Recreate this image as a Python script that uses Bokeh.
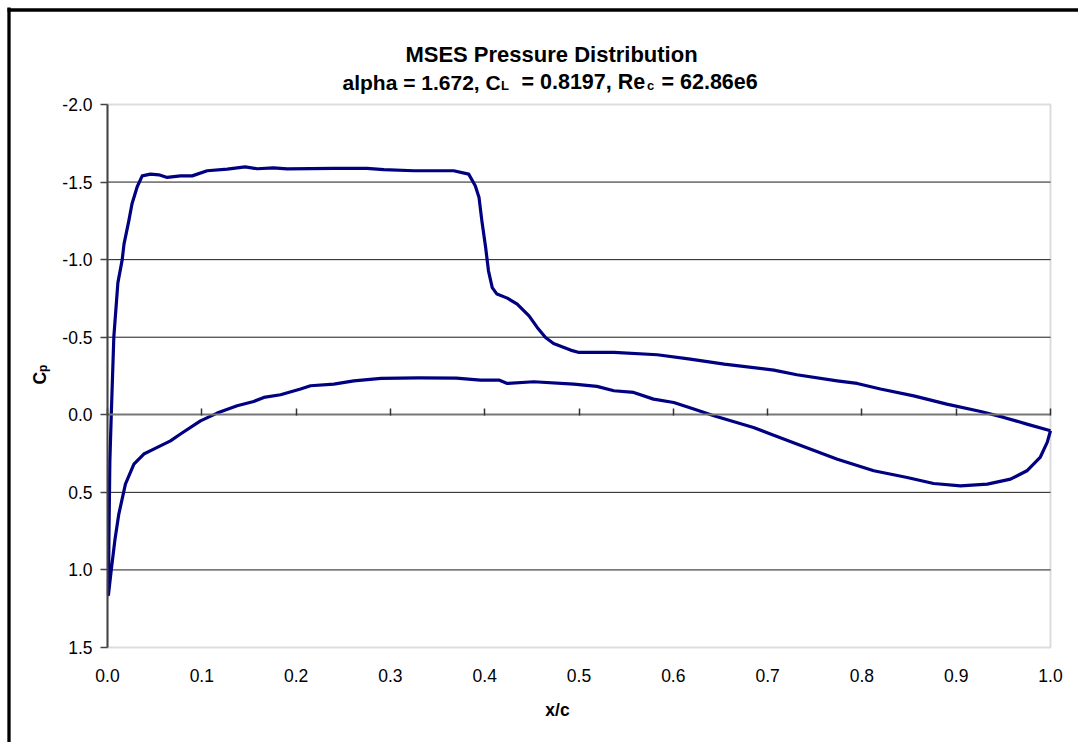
import math
from bokeh.plotting import figure
from bokeh.models import (Range1d, FixedTicker, NumeralTickFormatter, Label,
                          LinearAxis, BoxAnnotation)
from bokeh.embed import file_html
from bokeh.resources import INLINE

# ---------------- data ----------------
# upper (suction) surface, leading edge -> trailing edge
x_upper = [0.0010, 0.0015, 0.0025, 0.0040, 0.0067, 0.0110, 0.0156, 0.0175, 0.0226, 0.0260,
           0.0315, 0.0368, 0.0456, 0.0544, 0.0633, 0.0774, 0.0898, 0.1057, 0.127, 0.146,
           0.1587, 0.176, 0.1905, 0.24, 0.275, 0.293, 0.325, 0.367, 0.383, 0.390,
           0.394, 0.397, 0.401, 0.404, 0.408, 0.413, 0.424, 0.4345, 0.447, 0.4557,
           0.4645, 0.473, 0.491, 0.50, 0.537, 0.583, 0.618, 0.654, 0.7066, 0.731,
           0.7737, 0.795, 0.8197, 0.855, 0.890, 0.926, 0.9505, 0.975, 1.0]
cp_upper = [1.16, 0.80, 0.30, 0.00, -0.50, -0.85, -1.00, -1.10, -1.25, -1.36,
            -1.47, -1.54, -1.551, -1.547, -1.530, -1.54, -1.54, -1.573, -1.584, -1.598,
            -1.586, -1.592, -1.585, -1.588, -1.588, -1.580, -1.573, -1.573, -1.551, -1.476,
            -1.40, -1.25, -1.078, -0.928, -0.82, -0.778, -0.752, -0.713, -0.638, -0.563,
            -0.498, -0.46, -0.417, -0.402, -0.402, -0.387, -0.359, -0.327, -0.288, -0.258,
            -0.219, -0.202, -0.166, -0.122, -0.069, -0.021, 0.017, 0.06, 0.103]

# lower (pressure) surface, leading edge -> trailing edge
x_lower = [0.0010, 0.0040, 0.0080, 0.0120, 0.0190, 0.0280, 0.0385, 0.0490, 0.0668, 0.0774,
           0.0986, 0.1163, 0.1375, 0.155, 0.1658, 0.1835, 0.2047, 0.2153, 0.24, 0.2612,
           0.29, 0.33, 0.37, 0.3955, 0.415, 0.424, 0.452, 0.4945, 0.519, 0.537,
           0.558, 0.579, 0.6005, 0.6217, 0.643, 0.685, 0.703, 0.731, 0.774, 0.8126,
           0.848, 0.876, 0.9046, 0.933, 0.9576, 0.975, 0.989, 0.9965, 1.0]
cp_lower = [1.16, 1.00, 0.80, 0.64, 0.447, 0.318, 0.253, 0.221, 0.168, 0.124,
            0.039, -0.011, -0.058, -0.086, -0.112, -0.129, -0.166, -0.187, -0.198, -0.219,
            -0.235, -0.238, -0.236, -0.224, -0.224, -0.202, -0.213, -0.198, -0.183, -0.155,
            -0.144, -0.101, -0.079, -0.037, 0.006, 0.082, 0.124, 0.189, 0.286, 0.361,
            0.404, 0.443, 0.458, 0.447, 0.415, 0.361, 0.275, 0.178, 0.103]

x_ticks = [0.0, 0.1, 0.2, 0.3, 0.4, 0.5, 0.6, 0.7, 0.8, 0.9, 1.0]
y_ticks = [-2.0, -1.5, -1.0, -0.5, 0.0, 0.5, 1.0, 1.5]
grid_ticks = [-1.5, -1.0, -0.5, 0.5, 1.0]

title_line1 = "MSES Pressure Distribution"
title_parts = ["alpha = 1.672, C", "L", "= 0.8197, Re", "c", "= 62.86e6"]
x_title = "x/c"
y_title = ["C", "p"]

# ---------------- layout geometry (canvas pixels) ----------------
X0, X1 = 0.0, 1.0            # plot-area x extent
Y_BOTTOM, Y_TOP = 1.5, -2.0  # plot-area y extent (inverted axis)
FRAME_LEFT, FRAME_TOP, FRAME_W, FRAME_H = 107, 104, 943, 543
W, H = 1078, 742

def px_x(px):
    return X0 + (px - FRAME_LEFT) / FRAME_W * (X1 - X0)

def px_y(py):
    return Y_TOP + (py - FRAME_TOP) / FRAME_H * (Y_BOTTOM - Y_TOP)

FONT = "Liberation Sans"
TICK_SIZE = "17.5px"

p = figure(width=W, height=H, output_backend="svg", toolbar_location=None,
           x_range=Range1d(px_x(0), px_x(W)), y_range=Range1d(px_y(H), px_y(0)),
           x_axis_location=None, y_axis_location=None, min_border=0)
if p.title is not None:
    p.title.visible = False
p.background_fill_color = "white"
p.border_fill_color = "white"
p.outline_line_color = None
p.xgrid.visible = False
p.ygrid.visible = False

# outer chart border (left and top edges visible)
p.segment(x0=[px_x(8.5), px_x(7)], y0=[px_y(7), px_y(9.5)],
          x1=[px_x(8.5), px_x(W + 5)], y1=[px_y(H + 5), px_y(9.5)],
          line_color="black", line_width=3.3)

# plot area border
p.add_layout(BoxAnnotation(left=X0, right=X1, top=Y_TOP, bottom=Y_BOTTOM,
                           fill_alpha=0, line_color="#8c8c8c", line_width=2,
                           level="underlay"))

# horizontal gridlines
p.segment(x0=[X0] * len(grid_ticks), y0=grid_ticks, x1=[X1] * len(grid_ticks), y1=grid_ticks,
          line_color="#1a1a1a", line_width=1)

# y axis at x = 0
ya = LinearAxis(fixed_location=X0, bounds=(Y_TOP, Y_BOTTOM),
                ticker=FixedTicker(ticks=y_ticks),
                formatter=NumeralTickFormatter(format="0.0"))
ya.axis_line_color = "#444444"
ya.axis_line_width = 2
ya.major_tick_line_color = "#444444"
ya.major_tick_line_width = 1.5
ya.major_tick_out = 7
ya.major_tick_in = 0
ya.minor_tick_line_color = None
ya.major_label_standoff = 8
ya.major_label_text_font = FONT
ya.major_label_text_font_size = TICK_SIZE
ya.major_label_text_color = "black"
p.add_layout(ya, "left")

# x axis tick labels along the bottom of the plot area
xa = LinearAxis(fixed_location=Y_BOTTOM, bounds=(X0, X1),
                ticker=FixedTicker(ticks=x_ticks),
                formatter=NumeralTickFormatter(format="0.0"))
xa.axis_line_color = None
xa.major_tick_line_color = None
xa.minor_tick_line_color = None
xa.major_tick_out = 0
xa.major_tick_in = 0
xa.major_label_standoff = 21
xa.major_label_text_font = FONT
xa.major_label_text_font_size = TICK_SIZE
xa.major_label_text_color = "black"
p.add_layout(xa, "below")

# x axis line crossing at Cp = 0, with tick marks
xz = LinearAxis(fixed_location=0.0, bounds=(X0, X1),
                ticker=FixedTicker(ticks=x_ticks))
xz.axis_line_color = "#777777"
xz.axis_line_width = 2
xz.major_tick_line_color = "#333333"
xz.major_tick_line_width = 1.5
xz.major_tick_out = 6
xz.major_tick_in = 1
xz.minor_tick_line_color = None
xz.major_label_text_color = None
p.add_layout(xz, "above")

# pressure distribution: TE upper -> LE -> TE lower
xs = list(reversed(x_upper)) + x_lower[1:]
cps = list(reversed(cp_upper)) + cp_lower[1:]
p.line(xs, cps, line_color="#000080", line_width=3.2, line_join="round")

# titles
def lab(text, px, py, size, align="left", angle=0.0):
    p.add_layout(Label(x=px_x(px), y=px_y(py), text=text, text_font=FONT,
                       text_font_size=size, text_font_style="bold",
                       text_align=align, text_baseline="alphabetic", angle=angle,
                       text_color="black"))

lab(title_line1, 551, 54, "22px", align="center")
lab(title_parts[0], 342, 81.5, "21px")
lab(title_parts[1], 500.5, 85, "13px")
lab(title_parts[2], 521, 81.5, "21.5px")
lab(title_parts[3], 646.5, 85, "13px")
lab(title_parts[4], 661, 81.5, "21.5px")

lab(x_title, 557, 709, "17.5px", align="center")
lab(y_title[0], 39, 384, "17.5px", angle=math.pi / 2)
lab(y_title[1], 42, 371.5, "12px", angle=math.pi / 2)

open("out.html", "w").write(file_html(p, INLINE))
